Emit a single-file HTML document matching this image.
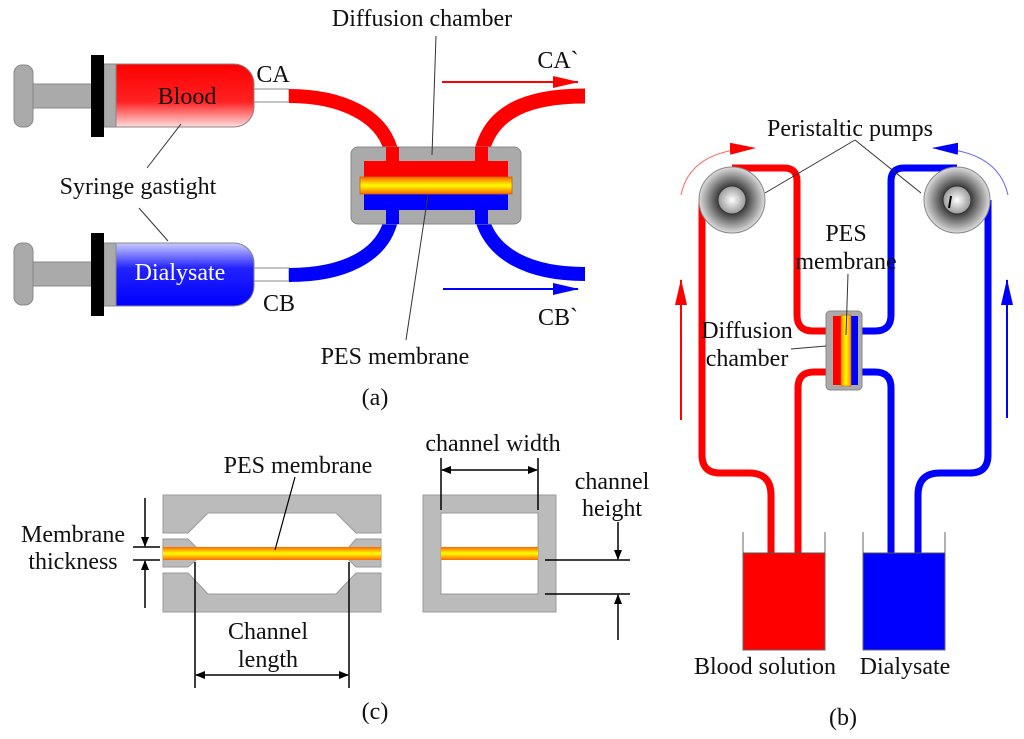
<!DOCTYPE html>
<html><head><meta charset="utf-8"><style>
html,body{margin:0;padding:0;background:#fff}
svg{display:block}
text{font-family:"Liberation Serif",serif;font-size:24px;fill:#111}
</style></head><body>
<svg width="1024" height="739" viewBox="0 0 1024 739" xmlns="http://www.w3.org/2000/svg">
<defs>
<linearGradient id="rg" x1="0" y1="0" x2="0" y2="1"><stop offset="0" stop-color="#f00"/><stop offset="0.6" stop-color="#f22"/><stop offset="1" stop-color="#fdd"/></linearGradient>
<linearGradient id="bg" x1="0" y1="0" x2="0" y2="1"><stop offset="0" stop-color="#ccf"/><stop offset="0.4" stop-color="#22f"/><stop offset="1" stop-color="#00f"/></linearGradient>
<linearGradient id="mg" x1="0" y1="0" x2="0" y2="1"><stop offset="0" stop-color="#f60"/><stop offset="0.5" stop-color="#ff0"/><stop offset="1" stop-color="#f60"/></linearGradient>
<linearGradient id="mgv" x1="0" y1="0" x2="1" y2="0"><stop offset="0" stop-color="#f80"/><stop offset="0.5" stop-color="#ff0"/><stop offset="1" stop-color="#f80"/></linearGradient>
<radialGradient id="pg"><stop offset="0" stop-color="#fff"/><stop offset="0.45" stop-color="#444"/><stop offset="1" stop-color="#ddd"/></radialGradient>
<radialGradient id="pg2"><stop offset="0" stop-color="#fff"/><stop offset="1" stop-color="#999"/></radialGradient>
<marker id="ah" markerWidth="10" markerHeight="8" refX="9" refY="4" orient="auto" markerUnits="userSpaceOnUse"><path d="M0,0 L10,4 L0,8 Z" fill="#000"/></marker>
<marker id="ahr" markerWidth="26" markerHeight="12" refX="25" refY="6" orient="auto" markerUnits="userSpaceOnUse"><path d="M0,0 L26,6 L0,12 Z" fill="#f00"/></marker>
<marker id="ahb" markerWidth="26" markerHeight="12" refX="25" refY="6" orient="auto" markerUnits="userSpaceOnUse"><path d="M0,0 L26,6 L0,12 Z" fill="#00f"/></marker>
</defs>

<g stroke="#888" stroke-width="1">
<rect x="14" y="65" width="19" height="62" rx="8" fill="#aaa"/>
<rect x="33" y="84" width="60" height="24" fill="#aaa"/>
<rect x="14" y="243" width="19" height="62" rx="8" fill="#aaa"/>
<rect x="33" y="262" width="60" height="24" fill="#aaa"/>
<rect x="104" y="64" width="14" height="63" fill="#aaa"/>
<rect x="104" y="243" width="14" height="63" fill="#aaa"/>
<path d="M116,64 H234 a20,20 0 0 1 20,20 V107 a20,20 0 0 1 -20,20 H116 Z" fill="url(#rg)"/>
<path d="M116,243 H234 a20,20 0 0 1 20,20 V286 a20,20 0 0 1 -20,20 H116 Z" fill="url(#bg)"/>
<rect x="254" y="89" width="35" height="13" fill="#fff"/>
<rect x="254" y="268" width="35" height="13" fill="#fff"/>
</g>
<rect x="91" y="55" width="13" height="82" fill="#000"/>
<rect x="91" y="233" width="13" height="83" fill="#000"/>
<text x="187" y="104" text-anchor="middle">Blood</text>
<text x="180" y="280" text-anchor="middle" style="fill:#fff">Dialysate</text>
<text x="273" y="82" text-anchor="middle">CA</text>
<text x="279" y="311" text-anchor="middle">CB</text>
<text x="558" y="68" text-anchor="middle">CA`</text>
<text x="558" y="325" text-anchor="middle">CB`</text>

<path d="M289,96 C340,96 385,115 392,155" stroke="#f00" stroke-width="14" fill="none"/>
<path d="M481,155 C490,110 530,96 585,96" stroke="#f00" stroke-width="15" fill="none"/>
<path d="M289,275 C340,275 385,258 392,215" stroke="#00f" stroke-width="14" fill="none"/>
<path d="M481,215 C490,255 530,274 585,274" stroke="#00f" stroke-width="14" fill="none"/>
<rect x="351" y="147" width="170" height="77" rx="7" fill="#aaa" stroke="#888"/>
<rect x="364" y="161" width="144" height="17" fill="#f00"/>
<rect x="386" y="147" width="13" height="16" fill="#f00"/>
<rect x="475" y="147" width="13" height="16" fill="#f00"/>
<rect x="364" y="193" width="144" height="17" fill="#00f"/>
<rect x="386" y="208" width="13" height="16" fill="#00f"/>
<rect x="475" y="208" width="13" height="16" fill="#00f"/>
<rect x="360" y="177" width="152" height="17" fill="url(#mg)" stroke="#c60" stroke-width="0.8"/>
<line x1="442" y1="82" x2="578" y2="82" stroke="#f00" stroke-width="2" marker-end="url(#ahr)"/>
<line x1="443" y1="289" x2="578" y2="289" stroke="#00f" stroke-width="2" marker-end="url(#ahb)"/>
<text x="422" y="26" text-anchor="middle">Diffusion chamber</text>
<line x1="436" y1="36" x2="432" y2="155" stroke="#333" stroke-width="1"/>
<text x="395" y="364" text-anchor="middle">PES membrane</text>
<line x1="428" y1="195" x2="406" y2="340" stroke="#333" stroke-width="1"/>
<text x="138" y="194" text-anchor="middle">Syringe gastight</text>
<line x1="181" y1="124" x2="147" y2="168" stroke="#333" stroke-width="1"/>
<line x1="139" y1="208" x2="168" y2="241" stroke="#333" stroke-width="1"/>
<text x="375" y="405" text-anchor="middle">(a)</text>

<g fill="none" stroke-width="7">
<path d="M771,560 V495 q0,-22 -22,-22 H720 q-18,0 -18,-18 V200" stroke="#f00"/>
<path d="M732,168 H784 q13,0 13,13 V315 q0,16 16,16 H832" stroke="#f00"/>
<path d="M798,560 V388 q0,-16 16,-16 H832" stroke="#f00"/>
<path d="M918,560 V495 q0,-22 22,-22 H970 q18,0 18,-18 V200" stroke="#00f"/>
<path d="M957,168 H904 q-13,0 -13,13 V315 q0,16 -16,16 H858" stroke="#00f"/>
<path d="M891,560 V388 q0,-16 -16,-16 H858" stroke="#00f"/>
</g>
<circle cx="732" cy="200" r="33" fill="url(#pg)" stroke="#888"/>
<circle cx="732" cy="200" r="14" fill="url(#pg2)" stroke="#333"/>
<circle cx="957" cy="200" r="33" fill="url(#pg)" stroke="#888"/>
<circle cx="957" cy="200" r="14" fill="url(#pg2)" stroke="#333"/>
<line x1="949" y1="208" x2="951" y2="196" stroke="#000" stroke-width="2"/>
<rect x="826" y="311" width="36" height="79" rx="4" fill="#aaa" stroke="#888"/>
<rect x="833" y="316" width="8" height="69" fill="#f00"/>
<rect x="851" y="316" width="7" height="69" fill="#00f"/>
<rect x="841" y="315" width="10" height="71" fill="url(#mgv)" stroke="#c60" stroke-width="0.6"/>
<rect x="743" y="553" width="82" height="97" fill="#f00"/>
<rect x="863" y="553" width="82" height="97" fill="#00f"/>
<path d="M743,532 V650 H825 V532 M863,532 V650 H945 V532" fill="none" stroke="#666" stroke-width="1"/>
<path d="M743,553 H825 M863,553 H945" stroke="#555" stroke-width="1"/>
<line x1="681" y1="420" x2="681" y2="280" stroke="#f00" stroke-width="2" marker-end="url(#ahr)"/>
<line x1="1007" y1="418" x2="1007" y2="280" stroke="#00f" stroke-width="2" marker-end="url(#ahb)"/>
<path d="M681,195 Q690,150 755,148" stroke="#f66" stroke-width="1" fill="none" marker-end="url(#ahr)"/>
<path d="M1008,195 Q998,150 933,148" stroke="#66f" stroke-width="1" fill="none" marker-end="url(#ahb)"/>
<text x="850" y="136" text-anchor="middle">Peristaltic pumps</text>
<line x1="855" y1="140" x2="765" y2="193" stroke="#333" stroke-width="1"/>
<line x1="855" y1="140" x2="921" y2="193" stroke="#333" stroke-width="1"/>
<text x="846" y="241" text-anchor="middle">PES</text>
<text x="846" y="269" text-anchor="middle">membrane</text>
<line x1="848" y1="274" x2="846" y2="335" stroke="#333" stroke-width="1"/>
<text x="747" y="338" text-anchor="middle">Diffusion</text>
<text x="747" y="366" text-anchor="middle">chamber</text>
<line x1="791" y1="349" x2="826" y2="346" stroke="#333" stroke-width="1"/>
<text x="765" y="674" text-anchor="middle">Blood solution</text>
<text x="905" y="674" text-anchor="middle">Dialysate</text>
<text x="843" y="725" text-anchor="middle">(b)</text>

<g fill="#bbb" stroke="#999" stroke-width="1">
<polygon points="163,495 381,495 381,533 356,533 336,513 208,513 188,533 163,533"/>
<polygon points="163,539 188,539 196,547 196,560 188,567 163,567"/>
<polygon points="381,539 356,539 349,547 349,560 356,567 381,567"/>
<polygon points="163,573 188,573 208,594 336,594 356,573 381,573 381,612 163,612"/>
<path d="M423,495 H556 V612 H423 Z M441,513 V594 H538 V513 Z" fill-rule="evenodd"/>
</g>
<rect x="163" y="547" width="218" height="13" fill="url(#mg)"/>
<rect x="441" y="547" width="97" height="13" fill="url(#mg)"/>
<g stroke="#000" stroke-width="1.5" fill="none">
<line x1="441" y1="458" x2="441" y2="510"/><line x1="538" y1="458" x2="538" y2="510"/>
<line x1="490" y1="470" x2="537" y2="470" marker-end="url(#ah)"/>
<line x1="490" y1="470" x2="442" y2="470" marker-end="url(#ah)"/>
<line x1="545" y1="560" x2="630" y2="560"/><line x1="545" y1="594" x2="630" y2="594"/>
<line x1="618" y1="522" x2="618" y2="559" marker-end="url(#ah)"/>
<line x1="618" y1="640" x2="618" y2="595" marker-end="url(#ah)"/>
<line x1="133" y1="547" x2="160" y2="547"/><line x1="133" y1="560" x2="160" y2="560"/>
<line x1="145" y1="498" x2="145" y2="546" marker-end="url(#ah)"/>
<line x1="145" y1="608" x2="145" y2="561" marker-end="url(#ah)"/>
<line x1="195" y1="562" x2="195" y2="688"/><line x1="349" y1="562" x2="349" y2="688"/>
<line x1="272" y1="675" x2="196" y2="675" marker-end="url(#ah)"/>
<line x1="272" y1="675" x2="348" y2="675" marker-end="url(#ah)"/>
<line x1="295" y1="477" x2="275" y2="550" stroke-width="1.2"/>
</g>
<text x="493" y="451" text-anchor="middle">channel width</text>
<text x="612" y="489" text-anchor="middle">channel</text>
<text x="612" y="516" text-anchor="middle">height</text>
<text x="73" y="542" text-anchor="middle">Membrane</text>
<text x="73" y="569" text-anchor="middle">thickness</text>
<text x="268" y="639" text-anchor="middle">Channel</text>
<text x="268" y="667" text-anchor="middle">length</text>
<text x="298" y="473" text-anchor="middle">PES membrane</text>
<text x="375" y="719" text-anchor="middle">(c)</text>
</svg>
</body></html>
